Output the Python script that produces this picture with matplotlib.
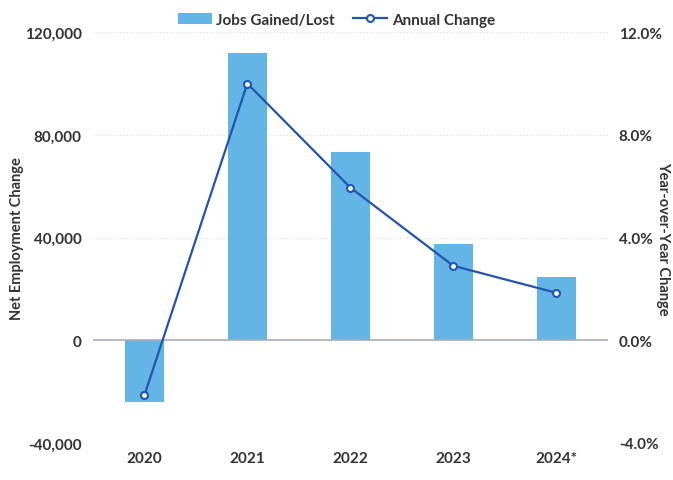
import matplotlib
matplotlib.use("Agg")
import matplotlib.pyplot as plt
from matplotlib.ticker import FuncFormatter

# data
years = ["2020", "2021", "2022", "2023", "2024*"]
jobs = [-24000, 112000, 73500, 37500, 24500]
pct_change = [-2.15, 10.0, 5.95, 2.9, 1.85]

plt.rcParams['font.family'] = ['Lato', 'DejaVu Sans']
plt.rcParams['font.weight'] = 'bold'

BAR = '#63b5e5'
LINE = '#2453b0'
TXT = '#333333'

fig = plt.figure(figsize=(6.73, 4.81), dpi=100)
ax = fig.add_axes([0.138, 0.077, 0.765, 0.854])
ax2 = ax.twinx()

x = range(len(years))
bars = ax.bar(x, jobs, width=0.38, color=BAR, label='Jobs Gained/Lost', zorder=2)
ax.axhline(0, color='#a9aeb8', lw=1.2, zorder=3)

line, = ax2.plot(x, pct_change, color=LINE, lw=1.6, marker='o', ms=5,
                 mfc='white', mec=LINE, mew=1.5, label='Annual Change', zorder=4)

ax.set_xlim(-0.5, 4.5)
ax.set_ylim(-40000, 120000)
ax.set_yticks([-40000, 0, 40000, 80000, 120000])
ax.yaxis.set_major_formatter(FuncFormatter(lambda v, p: f"{int(v):,}"))
ax2.set_ylim(-4, 12)
ax2.set_yticks([-4, 0, 4, 8, 12])
ax2.yaxis.set_major_formatter(FuncFormatter(lambda v, p: f"{v:.1f}%"))

ax.set_xticks(list(x))
ax.set_xticklabels(years)

ax.grid(axis='y', color='#dddddd', ls=(0, (1, 2)), lw=0.8, zorder=0)
ax.set_axisbelow(True)

for a in (ax, ax2):
    for s in a.spines.values():
        s.set_visible(False)
    a.tick_params(length=0, labelsize=11, colors=TXT, pad=8)
ax.tick_params(axis='x', pad=6)

ax.set_ylabel('Net Employment Change', fontsize=10.5, color=TXT, fontweight='bold',
              va='center')
ax.yaxis.set_label_coords(-0.148, 0.5)
ax2.set_ylabel('Year-over-Year Change', fontsize=10.5, color=TXT, fontweight='bold',
               rotation=270, va='center')
ax2.yaxis.set_label_coords(1.108, 0.5)

ax.set_zorder(ax2.get_zorder() - 1)
ax2.patch.set_visible(False)

fig.legend(handles=[bars, line], loc='upper center', bbox_to_anchor=(0.5, 1.0),
           ncol=2, frameon=False, fontsize=11, handlelength=2.2,
           handletextpad=0.3, columnspacing=1.2, labelcolor=TXT)

fig.savefig('out.png', dpi=100)
